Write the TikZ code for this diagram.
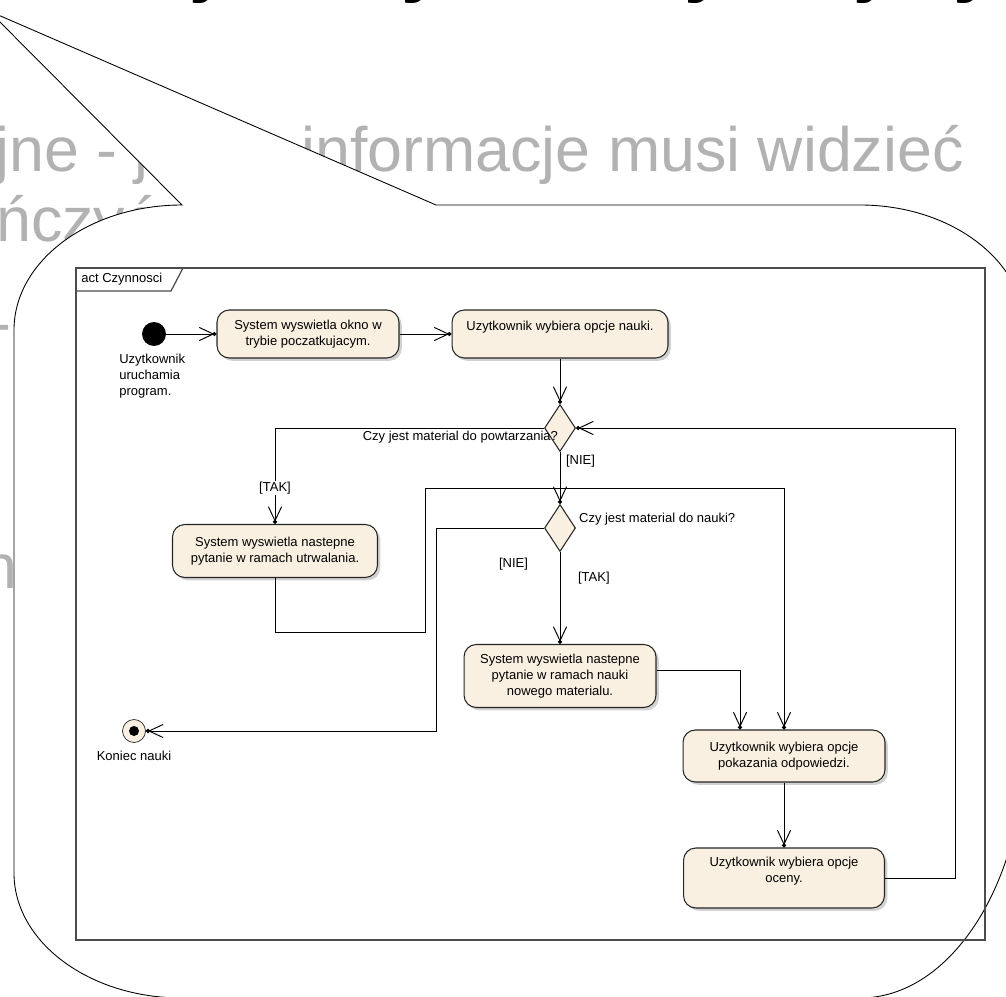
\documentclass[tikz,border=0pt]{standalone}
\usepackage{fontspec}
\setmainfont{Liberation Sans}
\usetikzlibrary{arrows.meta,shapes.geometric,shadows}
\definecolor{actfill}{RGB}{250,240,226}
\definecolor{slidegray}{RGB}{178,178,178}
\newcommand{\diagfont}{\fontsize{7.4}{9.1}\selectfont}
\newcommand{\slidefont}{\fontsize{35.7}{42}\selectfont}

\tikzset{
  activity/.style={draw=black!85, fill=actfill, line width=0.6pt, rounded corners=7pt,
    align=center, font=\diagfont, inner sep=2pt,
    drop shadow={shadow xshift=1.6pt, shadow yshift=-1.6pt, opacity=0.35}},
  decision/.style={diamond, draw=black!85, fill=actfill, line width=0.6pt, inner sep=0pt,
    minimum width=0.62cm, minimum height=0.94cm},
  flow/.style={line width=0.55pt, -{Straight Barb[length=8pt,width=7.5pt,sep=-1.2pt]Circle[length=2.4pt]}},
  guard/.style={font=\diagfont, inner sep=1pt},
  slidetext/.style={font=\slidefont, text=slidegray, inner sep=0pt},
}

\begin{document}
\begin{tikzpicture}[x=0.02cm, y=-0.02cm]
  \useasboundingbox (0,0) rectangle (1006,996);
  \clip (0,0) rectangle (1006,996);

  %%%%% slide behind the callout %%%%%
  \foreach \x/\ch in {205/j, 423/y, 706/y, 869/j, 975/y}
    \node[font=\fontsize{44}{50}\selectfont\bfseries, anchor=base, inner sep=0pt] (title\x) at (\x,-12) {\ch};

  \node[slidetext, anchor=base west] (line1a) at (-5,172) {jne - j};
  \node[slidetext, anchor=base east] (line1b) at (964,172) {informacje musi widzieć};
  \node[slidetext, anchor=base west] (line2) at (-4,242) {ńczyć};
  \node[slidetext, anchor=base west] (line3) at (-10,345) {-};
  \node[slidetext, anchor=base west] (line4) at (-18,588) {n};

  %%%%% callout %%%%%
  \draw[fill=white, line width=0.5pt] (-11,11) -- (436,205) -- (860,205)
    arc[start angle=-90, end angle=0, x radius=165, y radius=125] -- (1025,740)
    arc[start angle=0, end angle=90, x radius=165, y radius=258] -- (182,998)
    arc[start angle=90, end angle=180, x radius=168, y radius=125] -- (14,330)
    arc[start angle=180, end angle=270, x radius=168, y radius=125] -- cycle;

  %%%%% frame %%%%%
  \draw[line width=0.7pt, draw=black!70] (76,268) rectangle (985,940);
  \draw[line width=0.7pt, draw=black!70] (76,291) -- (171,291) -- (183,268);
  \node[font=\diagfont, anchor=west, inner sep=0pt] (frametitle) at (81,279) {act Czynnosci};

  %%%%% nodes %%%%%
  \node[circle, fill=black, minimum size=0.48cm, inner sep=0pt] (start) at (154,334) {};
  \node[font=\diagfont, align=left, anchor=north west, inner sep=0pt] (startlbl) at (119,354) {Uzytkownik\\uruchamia\\program.};

  \node[activity, minimum width=3.64cm, minimum height=0.96cm] (a) at (308,334) {System wyswietla okno w\\trybie poczatkujacym.};
  \node[activity, minimum width=4.32cm, minimum height=0.96cm] (b) at (560,334) {Uzytkownik wybiera opcje nauki.\\\mbox{}};

  \node[decision] (d1) at (560,428) {};
  \node[decision] (d2) at (560,528) {};

  \node[activity, minimum width=4.1cm, minimum height=1.06cm] (c) at (275,551) {System wyswietla nastepne\\pytanie w ramach utrwalania.};
  \node[activity, minimum width=3.84cm, minimum height=1.26cm] (n) at (560,676) {System wyswietla nastepne\\pytanie w ramach nauki\\nowego materialu.};
  \node[activity, minimum width=4.04cm, minimum height=1.04cm] (e) at (784,756) {Uzytkownik wybiera opcje\\pokazania odpowiedzi.};
  \node[activity, minimum width=4.02cm, minimum height=1.2cm] (f) at (784,878) {Uzytkownik wybiera opcje\\oceny.\\\mbox{}};

  \node[circle, draw=black!85, fill=actfill, minimum size=0.46cm, inner sep=0pt,
    path picture={\fill[black] (path picture bounding box.center) circle (0.1cm);}] (end) at (134,731) {};
  \node[font=\diagfont, anchor=north, inner sep=0pt] (endlbl) at (134,751) {Koniec nauki};

  %%%%% flows %%%%%
  \draw[flow] (start) -- (a);
  \draw[flow] (a) -- (b);
  \draw[flow] (b) -- (d1);
  \draw[flow] (d1) -- (d2);
  \draw[flow] (d1.west) -| (c.north);
  \draw[flow] (d2) -- (n);
  \draw[flow] (d2.west) -- ++(-108,0) |- (end);
  \draw[flow] (c.south) -- ++(0,54) -| (425,488) -| (e.north);
  \draw[flow] ([yshift=0.12cm]n.east) -| ([xshift=-0.88cm]e.north);
  \draw[flow] (e) -- (f);
  \draw[flow] (f.east) -- ++(70,0) |- (d1.east);

  %%%%% guards %%%%%
  \node[guard, fill=white, inner sep=0.5pt] (tak1) at (275,488) {[TAK]};
  \node[guard, anchor=west] (nie1) at (564,461) {[NIE]};
  \node[guard, anchor=east] (q1) at (560,437) {Czy jest material do powtarzania?};
  \node[guard, anchor=west] (q2) at (577,519) {Czy jest material do nauki?};
  \node[guard, anchor=east] (nie2) at (530,564) {[NIE]};
  \node[guard, anchor=west] (tak2) at (576,578) {[TAK]};
\end{tikzpicture}
\end{document}
